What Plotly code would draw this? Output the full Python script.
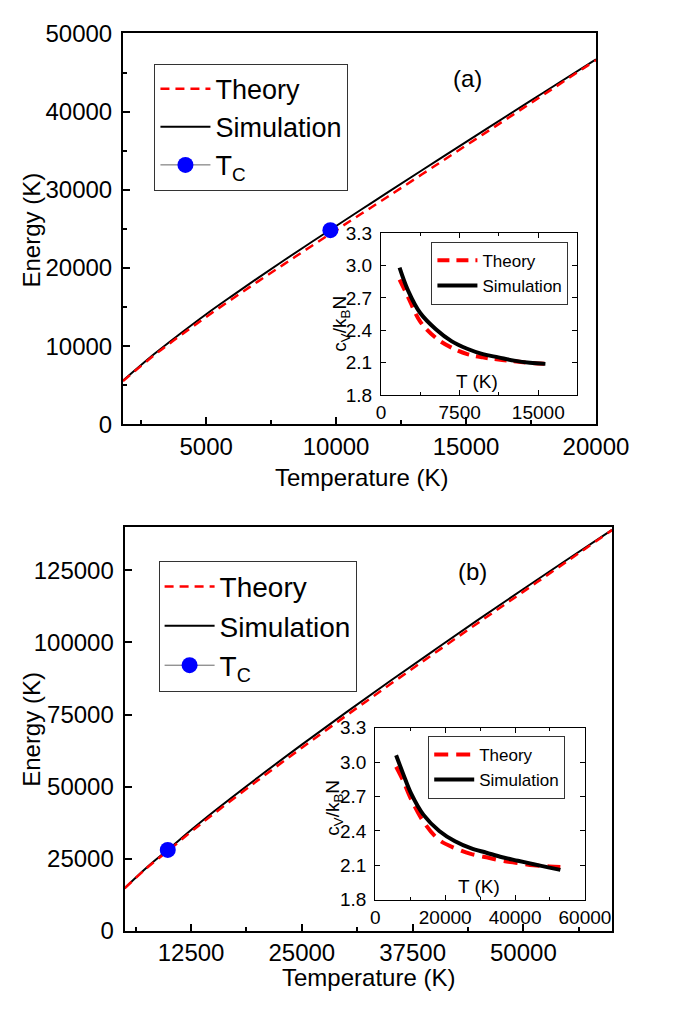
import plotly.graph_objects as go

W, H = 679, 1012

# ---------------- data ----------------
# Panel (a) main: energy vs temperature
T_a = [1800, 3000, 4000, 5000, 6000, 7000, 8000, 9000, 10000, 11000, 12000, 14000, 16000, 18000, 20000]
E_sim_a = [5600, 9000, 11600, 14100, 16450, 18750, 21000, 23200, 25380, 27550, 29700, 34000, 38250, 42480, 46700]
E_th_a = [5550, 8850, 11350, 13750, 16050, 18300, 20500, 22700, 24850, 27000, 29150, 33500, 37850, 42200, 46600]
Tc_a_T = [9780]
Tc_a_E = [24850]

# Panel (a) inset: heat capacity
Tin_a = [1770, 2570, 3740, 5230, 6720, 8220, 9710, 11200, 12700, 14190, 15680]
cv_sim_a = [2.98, 2.77, 2.56, 2.41, 2.30, 2.23, 2.18, 2.15, 2.12, 2.10, 2.09]
cv_th_a = [2.87, 2.71, 2.48, 2.33, 2.24, 2.18, 2.15, 2.13, 2.115, 2.10, 2.09]

# Panel (b) main
T_b = [5000, 7500, 10000, 12500, 15000, 20000, 25000, 30000, 35000, 40000, 45000, 50000, 55000, 60000]
E_sim_b = [14700, 21900, 28350, 34900, 41150, 53050, 64550, 75750, 86700, 97450, 108100, 118550, 128900, 139100]
E_th_b = [14650, 21700, 27950, 34300, 40400, 52050, 63450, 74600, 85550, 96350, 107050, 117650, 128300, 139000]
Tc_b_T = [9870]
Tc_b_E = [28000]

# Panel (b) inset
Tin_b = [5950, 7940, 10190, 13790, 18300, 22810, 27300, 31810, 36320, 40810, 45320, 49840, 52970]
cv_sim_b = [3.06, 2.90, 2.73, 2.54, 2.40, 2.31, 2.25, 2.21, 2.17, 2.14, 2.11, 2.08, 2.06]
cv_th_b = [2.96, 2.84, 2.68, 2.48, 2.32, 2.25, 2.20, 2.17, 2.14, 2.12, 2.10, 2.09, 2.085]

# ---------------- layout helpers ----------------
def px_x(x):
    return x / W

def px_y(y):
    return 1 - y / H

FONT = "Liberation Sans, Arial, sans-serif"
RED = "#ff0000"
BLUE = "#0000ff"

fig = go.Figure()

# main (a)
fig.add_trace(go.Scatter(x=T_a, y=E_sim_a, mode="lines", name="Simulation",
                         line=dict(color="black", width=2, shape="spline"), xaxis="x", yaxis="y",
                         legend="legend", legendrank=2))
fig.add_trace(go.Scatter(x=T_a, y=E_th_a, mode="lines", name="Theory",
                         line=dict(color=RED, width=2.5, dash="9px,6px", shape="spline"), xaxis="x", yaxis="y",
                         legend="legend", legendrank=1))
fig.add_trace(go.Scatter(x=Tc_a_T, y=Tc_a_E, mode="lines+markers", name="T<sub>C</sub>",
                         line=dict(color="#666666", width=1),
                         marker=dict(color=BLUE, size=16), xaxis="x", yaxis="y",
                         legend="legend", legendrank=3))

# inset (a)
fig.add_trace(go.Scatter(x=Tin_a, y=cv_th_a, mode="lines", name="Theory",
                         line=dict(color=RED, width=4, dash="12px,7px", shape="spline"), xaxis="x2", yaxis="y2",
                         legend="legend2"))
fig.add_trace(go.Scatter(x=Tin_a, y=cv_sim_a, mode="lines", name="Simulation",
                         line=dict(color="black", width=4, shape="spline"), xaxis="x2", yaxis="y2",
                         legend="legend2"))

# main (b)
fig.add_trace(go.Scatter(x=T_b, y=E_sim_b, mode="lines", name="Simulation",
                         line=dict(color="black", width=2, shape="spline"), xaxis="x3", yaxis="y3",
                         legend="legend3", legendrank=2))
fig.add_trace(go.Scatter(x=T_b, y=E_th_b, mode="lines", name="Theory",
                         line=dict(color=RED, width=2.5, dash="9px,6px", shape="spline"), xaxis="x3", yaxis="y3",
                         legend="legend3", legendrank=1))
fig.add_trace(go.Scatter(x=Tc_b_T, y=Tc_b_E, mode="lines+markers", name="T<sub>C</sub>",
                         line=dict(color="#666666", width=1),
                         marker=dict(color=BLUE, size=16), xaxis="x3", yaxis="y3",
                         legend="legend3", legendrank=3))

# inset (b)
fig.add_trace(go.Scatter(x=Tin_b, y=cv_th_b, mode="lines", name="Theory",
                         line=dict(color=RED, width=4, dash="14px,8px", shape="spline"), xaxis="x4", yaxis="y4",
                         legend="legend4"))
fig.add_trace(go.Scatter(x=Tin_b, y=cv_sim_b, mode="lines", name="Simulation",
                         line=dict(color="black", width=4, shape="spline"), xaxis="x4", yaxis="y4",
                         legend="legend4"))

def main_axis(domain, rng, dtick, minor_dtick, anchor, standoff):
    d = dict(domain=domain, range=rng, anchor=anchor, dtick=dtick, tick0=0,
             tickformat="d", ticks="inside", ticklen=7, tickwidth=1.5, tickcolor="black",
             showline=True, linecolor="black", linewidth=2, mirror=True,
             showgrid=False, zeroline=False,
             tickfont=dict(family=FONT, size=24, color="black"),
             ticklabelstandoff=standoff)
    if minor_dtick:
        d["minor"] = dict(dtick=minor_dtick, tick0=0, ticks="inside", ticklen=4,
                          tickwidth=1.5, tickcolor="black", showgrid=False)
    return d

def inset_axis(domain, rng, dtick, minor_dtick, anchor, fmt, standoff):
    d = dict(domain=domain, range=rng, anchor=anchor, dtick=dtick, tick0=0,
             tickformat=fmt, ticks="inside", ticklen=5, tickwidth=1, tickcolor="black",
             showline=True, linecolor="black", linewidth=1.2, mirror="allticks",
             showgrid=False, zeroline=False,
             tickfont=dict(family=FONT, size=19, color="black"),
             ticklabelstandoff=standoff)
    if minor_dtick:
        d["minor"] = dict(dtick=minor_dtick, tick0=0, ticks="inside", ticklen=3,
                          tickwidth=1, tickcolor="black", showgrid=False)
    return d

# domains (pixel measured)
xa = [px_x(125), px_x(626)]
ya = [px_y(421.7), px_y(20)]
xia = [px_x(398.3), px_x(606)]
yia = [px_y(391.7), px_y(225)]
xb = [px_x(126.7), px_x(643)]
yb = [px_y(941.7), px_y(527.3)]
xib = [px_x(392.3), px_x(614.3)]
yib = [px_y(910), px_y(733.3)]

leg_common = dict(bgcolor="white", bordercolor="#333333", borderwidth=1,
                  xanchor="left", yanchor="top", tracegroupgap=0)

fig.update_layout(
    width=W, height=H,
    margin=dict(l=0, r=0, t=0, b=0),
    paper_bgcolor="white", plot_bgcolor="white",
    font=dict(family=FONT, color="black"),
    xaxis=main_axis(xa, [1800, 20000], 5000, 2500, "y", 0),
    yaxis=main_axis(ya, [0, 50000], 10000, 5000, "x", 4),
    xaxis2=inset_axis(xia, [0, 18700], 7500, 3750, "y2", "d", 0),
    yaxis2=inset_axis(yia, [1.7999, 3.3001], 0.3, None, "x2", ".1f", 4),
    xaxis3=main_axis(xb, [5000, 60000], 12500, 6250, "y3", 0),
    yaxis3=main_axis(yb, [0, 140000], 25000, None, "x3", 4),
    xaxis4=inset_axis(xib, [0, 60000], 20000, 10000, "y4", "d", 0),
    yaxis4=inset_axis(yib, [1.7999, 3.3001], 0.3, None, "x4", ".1f", 4),
    legend=dict(x=px_x(158.3), y=px_y(51), itemwidth=50,
                font=dict(family=FONT, size=27, color="black"), **leg_common),
    legend2=dict(x=px_x(451.7), y=px_y(234), itemwidth=40,
                 font=dict(family=FONT, size=17, color="black"), **leg_common),
    legend3=dict(x=px_x(162.7), y=px_y(561.7), itemwidth=50,
                 font=dict(family=FONT, size=28, color="black"), **leg_common),
    legend4=dict(x=px_x(448.3), y=px_y(741.7), itemwidth=40,
                 font=dict(family=FONT, size=17, color="black"), **leg_common),
    showlegend=True,
)

def ann(text, x, y, size, angle=0):
    fig.add_annotation(text=text, x=px_x(x), y=px_y(y), xref="paper", yref="paper",
                       showarrow=False, textangle=angle, xanchor="center", yanchor="middle",
                       font=dict(family=FONT, size=size, color="black"))

# axis titles and panel labels
ann("Energy (K)", 28, 222, 24, -90)
ann("Temperature (K)", 378, 476, 24)
ann("(a)", 490, 66, 24)
ann("c<sub>V</sub>/k<sub>B</sub>N", 355, 318, 19, -90)
ann("T (K)", 500, 378, 19)

ann("Energy (K)", 28, 735, 24, -90)
ann("Temperature (K)", 385, 990, 24)
ann("(b)", 495, 573, 24)
ann("c<sub>V</sub>/k<sub>B</sub>N", 349, 815, 19, -90)
ann("T (K)", 502, 896, 19)

fig.write_html("out.html")
